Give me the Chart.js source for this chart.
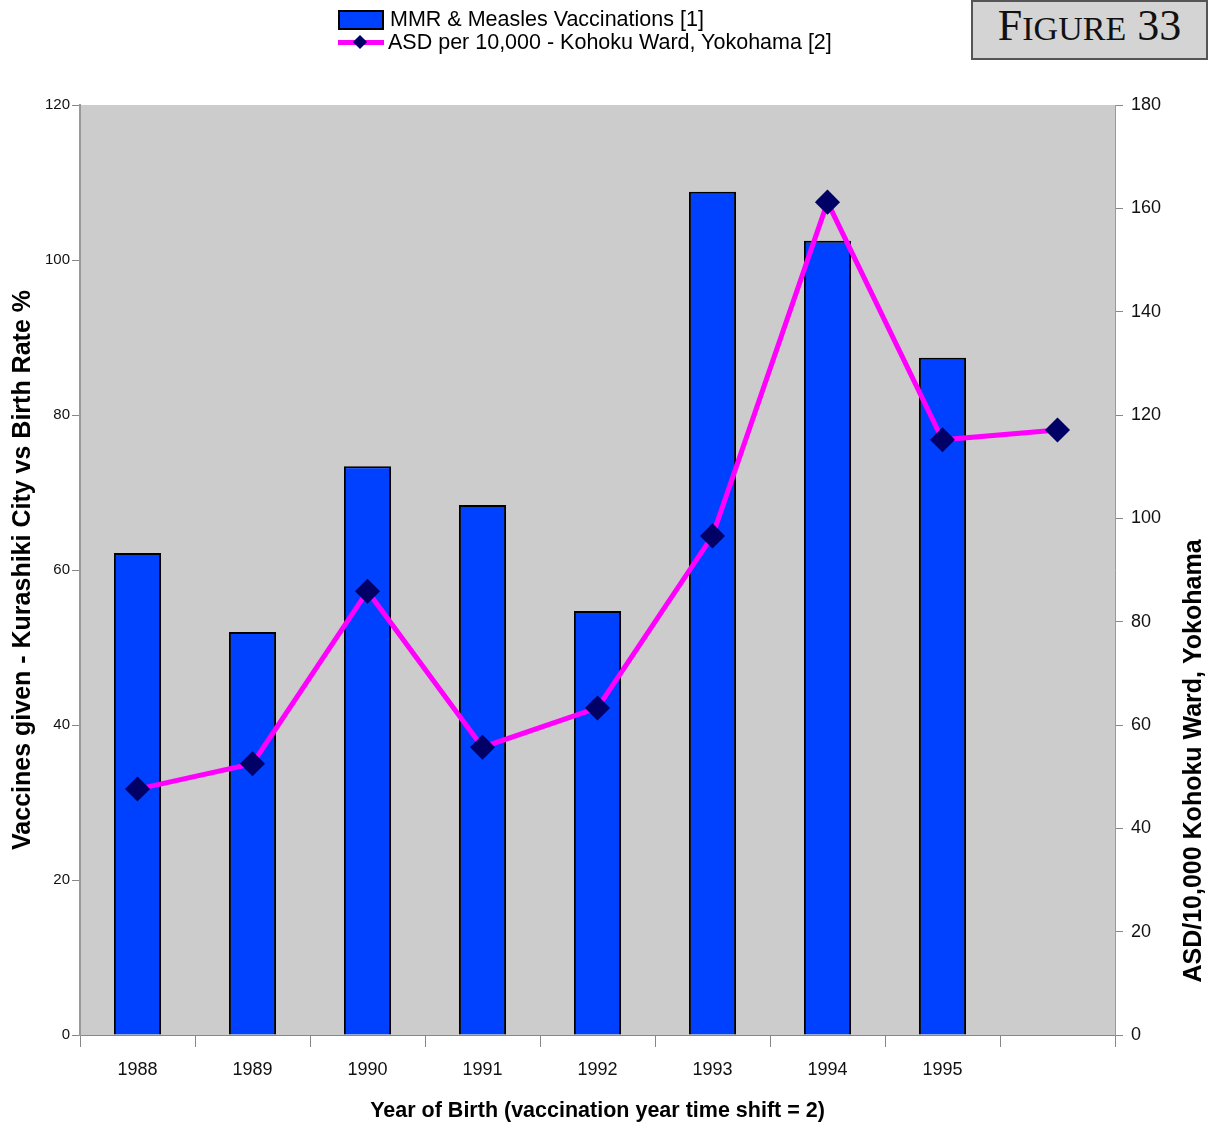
<!DOCTYPE html>
<html>
<head>
<meta charset="utf-8">
<script src="https://cdn.jsdelivr.net/npm/chart.js@4.4.0/dist/chart.umd.min.js"></script>
<style>
  body { margin: 0; background: #fff; }
  #wrap { position: relative; width: 1208px; height: 1128px; }
  #legend { position: absolute; left: 338px; top: 8px; font-family: "Liberation Sans", Arial, sans-serif; font-size: 21.5px; line-height: 23px; color: #000; }
  .row { display: flex; align-items: center; height: 23px; }
  .box { width: 42px; height: 16px; background: #0041ff; border: 2px solid #000; margin-right: 6px; }
  .ln { position: relative; width: 46px; height: 23px; margin-right: 4px; }
  .ln i { position: absolute; left: 0; right: 0; top: 9px; height: 5px; background: #ff00ff; }
  .ln b { position: absolute; left: 17px; top: 6px; width: 10px; height: 10px; background: #000066; transform: rotate(45deg); }
  #fig { position: absolute; left: 971px; top: 0; width: 233px; height: 56px; background: #d4d4d4; border: 2px solid #555; font-family: "Liberation Serif", "Times New Roman", serif; font-size: 44px; line-height: 48px; text-align: center; color: #111; }
  #fig span { font-size: 34px; }
  canvas { position: absolute; left: 0; top: 0; }
</style>
</head>
<body>
<div id="wrap">
  <canvas id="chart" width="1208" height="1128"></canvas>
  <div id="legend">
    <div class="row"><div class="box"></div>MMR &amp; Measles Vaccinations [1]</div>
    <div class="row"><div class="ln"><i></i><b></b></div>ASD per 10,000 - Kohoku Ward, Yokohama [2]</div>
  </div>
  <div id="fig">F<span>IGURE</span> 33</div>
</div>
<script>
// categories + series
const years = ["1988", "1989", "1990", "1991", "1992", "1993", "1994", "1995", ""];
const vaccines = [62.2, 52.0, 73.4, 68.4, 54.7, 108.8, 102.5, 87.4, null];
const asdPer10k = [47.6, 52.5, 85.9, 55.7, 63.3, 96.6, 161.2, 115.2, 117.1];

const FONT = "'Liberation Sans', Arial, sans-serif";
const rightTitle = "ASD/10,000 Kohoku Ward, Yokohama";

// gray plot background + right axis title (reads bottom to top)
const plotExtras = {
  id: "plotExtras",
  beforeDraw(chart) {
    const a = chart.chartArea, ctx = chart.ctx;
    ctx.save();
    ctx.fillStyle = "#cccccc";
    ctx.fillRect(a.left, a.top, a.right - a.left, a.bottom - a.top);
    ctx.restore();
  },
  afterDraw(chart) {
    const ctx = chart.ctx;
    ctx.save();
    ctx.translate(1194, 761);
    ctx.rotate(-Math.PI / 2);
    ctx.font = "bold 25px " + FONT;
    ctx.fillStyle = "#000";
    ctx.textAlign = "center";
    ctx.textBaseline = "middle";
    ctx.fillText(rightTitle, 0, 0);
    ctx.restore();
  }
};

new Chart(document.getElementById("chart"), {
  data: {
    labels: years,
    datasets: [
      {
        type: "line",
        label: "ASD per 10,000 - Kohoku Ward, Yokohama [2]",
        data: asdPer10k,
        yAxisID: "yR",
        borderColor: "#ff00ff",
        borderWidth: 5,
        pointStyle: "rectRot",
        pointRadius: 9,
        pointBackgroundColor: "#000066",
        pointBorderColor: "#000066",
        tension: 0,
        order: 0
      },
      {
        type: "bar",
        label: "MMR & Measles Vaccinations [1]",
        data: vaccines,
        yAxisID: "yL",
        backgroundColor: "#0041ff",
        borderColor: "#000",
        borderWidth: 2,
        categoryPercentage: 1,
        barPercentage: 0.41,
        order: 1
      }
    ]
  },
  options: {
    responsive: false,
    animation: false,
    layout: { padding: { top: 105, left: 0, right: 0, bottom: 0 } },
    plugins: { legend: { display: false }, tooltip: { enabled: false } },
    scales: {
      x: {
        offset: true,
        grid: { offset: true, drawOnChartArea: false, drawTicks: true, tickLength: 12, color: "#888" },
        border: { color: "#888", width: 1 },
        ticks: { color: "#111", font: { family: FONT, size: 18 }, padding: 12 },
        title: { display: true, text: "Year of Birth (vaccination year time shift = 2)", color: "#000",
                 font: { family: FONT, size: 21.5, weight: "bold" }, padding: { top: 2 } },
        afterFit(s) { s.height = 93; }
      },
      yL: {
        position: "left",
        min: 0, max: 120,
        ticks: { stepSize: 20, color: "#111", font: { family: FONT, size: 15 }, padding: 2 },
        grid: { drawOnChartArea: false, tickLength: 8, color: "#888" },
        border: { color: "#999", width: 2 },
        title: { display: true, text: "Vaccines given - Kurashiki City vs Birth Rate %", color: "#000",
                 font: { family: FONT, size: 25, weight: "bold" }, padding: { top: 8, bottom: 0 } },
        afterFit(s) { s.width = 80; }
      },
      yR: {
        position: "right",
        min: 0, max: 180,
        ticks: { stepSize: 20, color: "#111", font: { family: FONT, size: 18 }, padding: 8 },
        grid: { drawOnChartArea: false, tickLength: 8, color: "#888" },
        border: { color: "#999", width: 1 },
        afterFit(s) { s.width = 93; }
      }
    }
  },
  plugins: [plotExtras]
});
</script>
</body>
</html>
